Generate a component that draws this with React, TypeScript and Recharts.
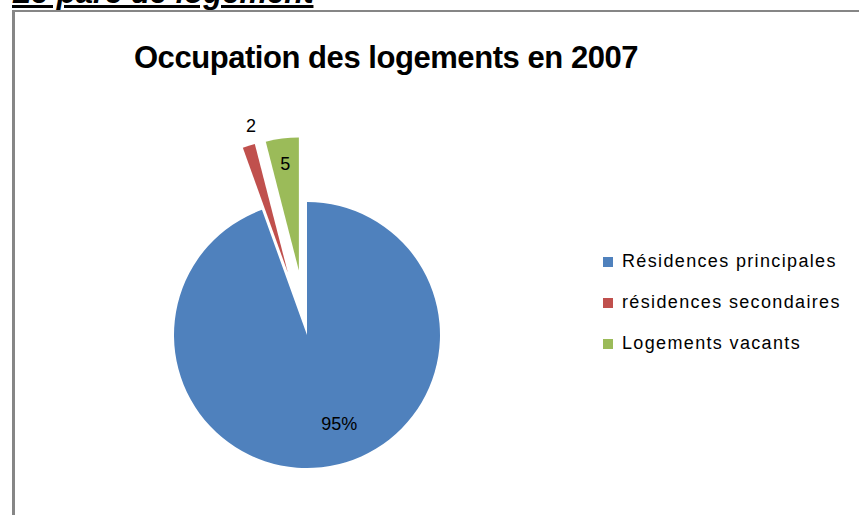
import { PieChart, Pie, Cell } from 'recharts';

const categories = ['Résidences principales', 'résidences secondaires', 'Logements vacants'];
const shares = [94.5, 1.5, 4];
const sliceLabels = ['95%', '2', '5'];
const colors = ['#4F81BD', '#C0504D', '#9BBB59'];
const exploded = [false, true, true];

const data = categories.map((name, i) => ({ name, value: shares[i] }));

const RADIAN = Math.PI / 180;
const CX = 307;
const CY = 335;
const R = 133;
const EXPLODE = 65;
// where each label sits, as a fraction of the radius, plus a small angle nudge
const labelRadius = [0.71, 1.14, 0.81];
const labelNudge = [10, -3, 0];

const total = shares.reduce((a, b) => a + b, 0);
const sliceMid = (i: number) => {
  const before = shares.slice(0, i).reduce((a, b) => a + b, 0);
  return 90 - ((before + shares[i] / 2) / total) * 360;
};

const FONT = '"Liberation Sans", Arial, sans-serif';

const renderLabel = (slice: number) => (props: any) => {
  const { cx, cy, midAngle, outerRadius, index } = props;
  if (index !== slice) return null;
  const a = (midAngle + labelNudge[index]) * RADIAN;
  const r = outerRadius * labelRadius[index];
  return (
    <text
      x={cx + r * Math.cos(-a)}
      y={cy + r * Math.sin(-a)}
      textAnchor="middle"
      dominantBaseline="central"
      fill="#000"
      fontSize={18}
      fontFamily={FONT}
    >
      {sliceLabels[index]}
    </text>
  );
};

export default function App() {
  return (
    <div style={{ position: 'absolute', left: 0, top: 0, width: 859, height: 515, overflow: 'hidden', background: '#fff', fontFamily: FONT }}>
      <div
        style={{
          position: 'absolute', left: 12, top: -25, fontSize: 31, fontWeight: 700, fontStyle: 'italic',
          textDecoration: 'underline', whiteSpace: 'nowrap', lineHeight: '36px', color: '#000',
        }}
      >
        Le parc de logement
      </div>
      <div style={{ position: 'absolute', left: 12, top: 10, width: 860, height: 520, borderTop: '2px solid #868686', borderLeft: '3px solid #868686' }} />
      <div style={{ position: 'absolute', left: 0, top: 40, width: 772, textAlign: 'center', fontSize: 31, fontWeight: 700, letterSpacing: -0.45, color: '#000', whiteSpace: 'nowrap' }}>
        Occupation des logements en 2007
      </div>
      <div style={{ position: 'absolute', left: 0, top: 0 }}>
        <PieChart width={859} height={515} margin={{ top: 0, right: 0, bottom: 0, left: 0 }}>
          {data.map((_, s) => {
            const m = sliceMid(s);
            const off = exploded[s] ? EXPLODE : 0;
            return (
              <Pie
                key={s}
                data={data}
                dataKey="value"
                cx={CX + off * Math.cos(-m * RADIAN)}
                cy={CY + off * Math.sin(-m * RADIAN)}
                outerRadius={R}
                startAngle={90}
                endAngle={-270}
                stroke="none"
                labelLine={false}
                label={renderLabel(s)}
                isAnimationActive={false}
              >
                {data.map((d, i) => (
                  <Cell key={d.name} fill={i === s ? colors[i] : 'transparent'} />
                ))}
              </Pie>
            );
          })}
        </PieChart>
      </div>
      <div style={{ position: 'absolute', left: 603, top: 241, fontSize: 18, color: '#000', letterSpacing: 1.35 }}>
        {categories.map((c, i) => (
          <div key={c} style={{ display: 'flex', alignItems: 'center', height: 41, whiteSpace: 'nowrap' }}>
            <span style={{ width: 10, height: 10, background: colors[i], marginRight: 9, display: 'inline-block' }} />
            <span>{c}</span>
          </div>
        ))}
      </div>
    </div>
  );
}
